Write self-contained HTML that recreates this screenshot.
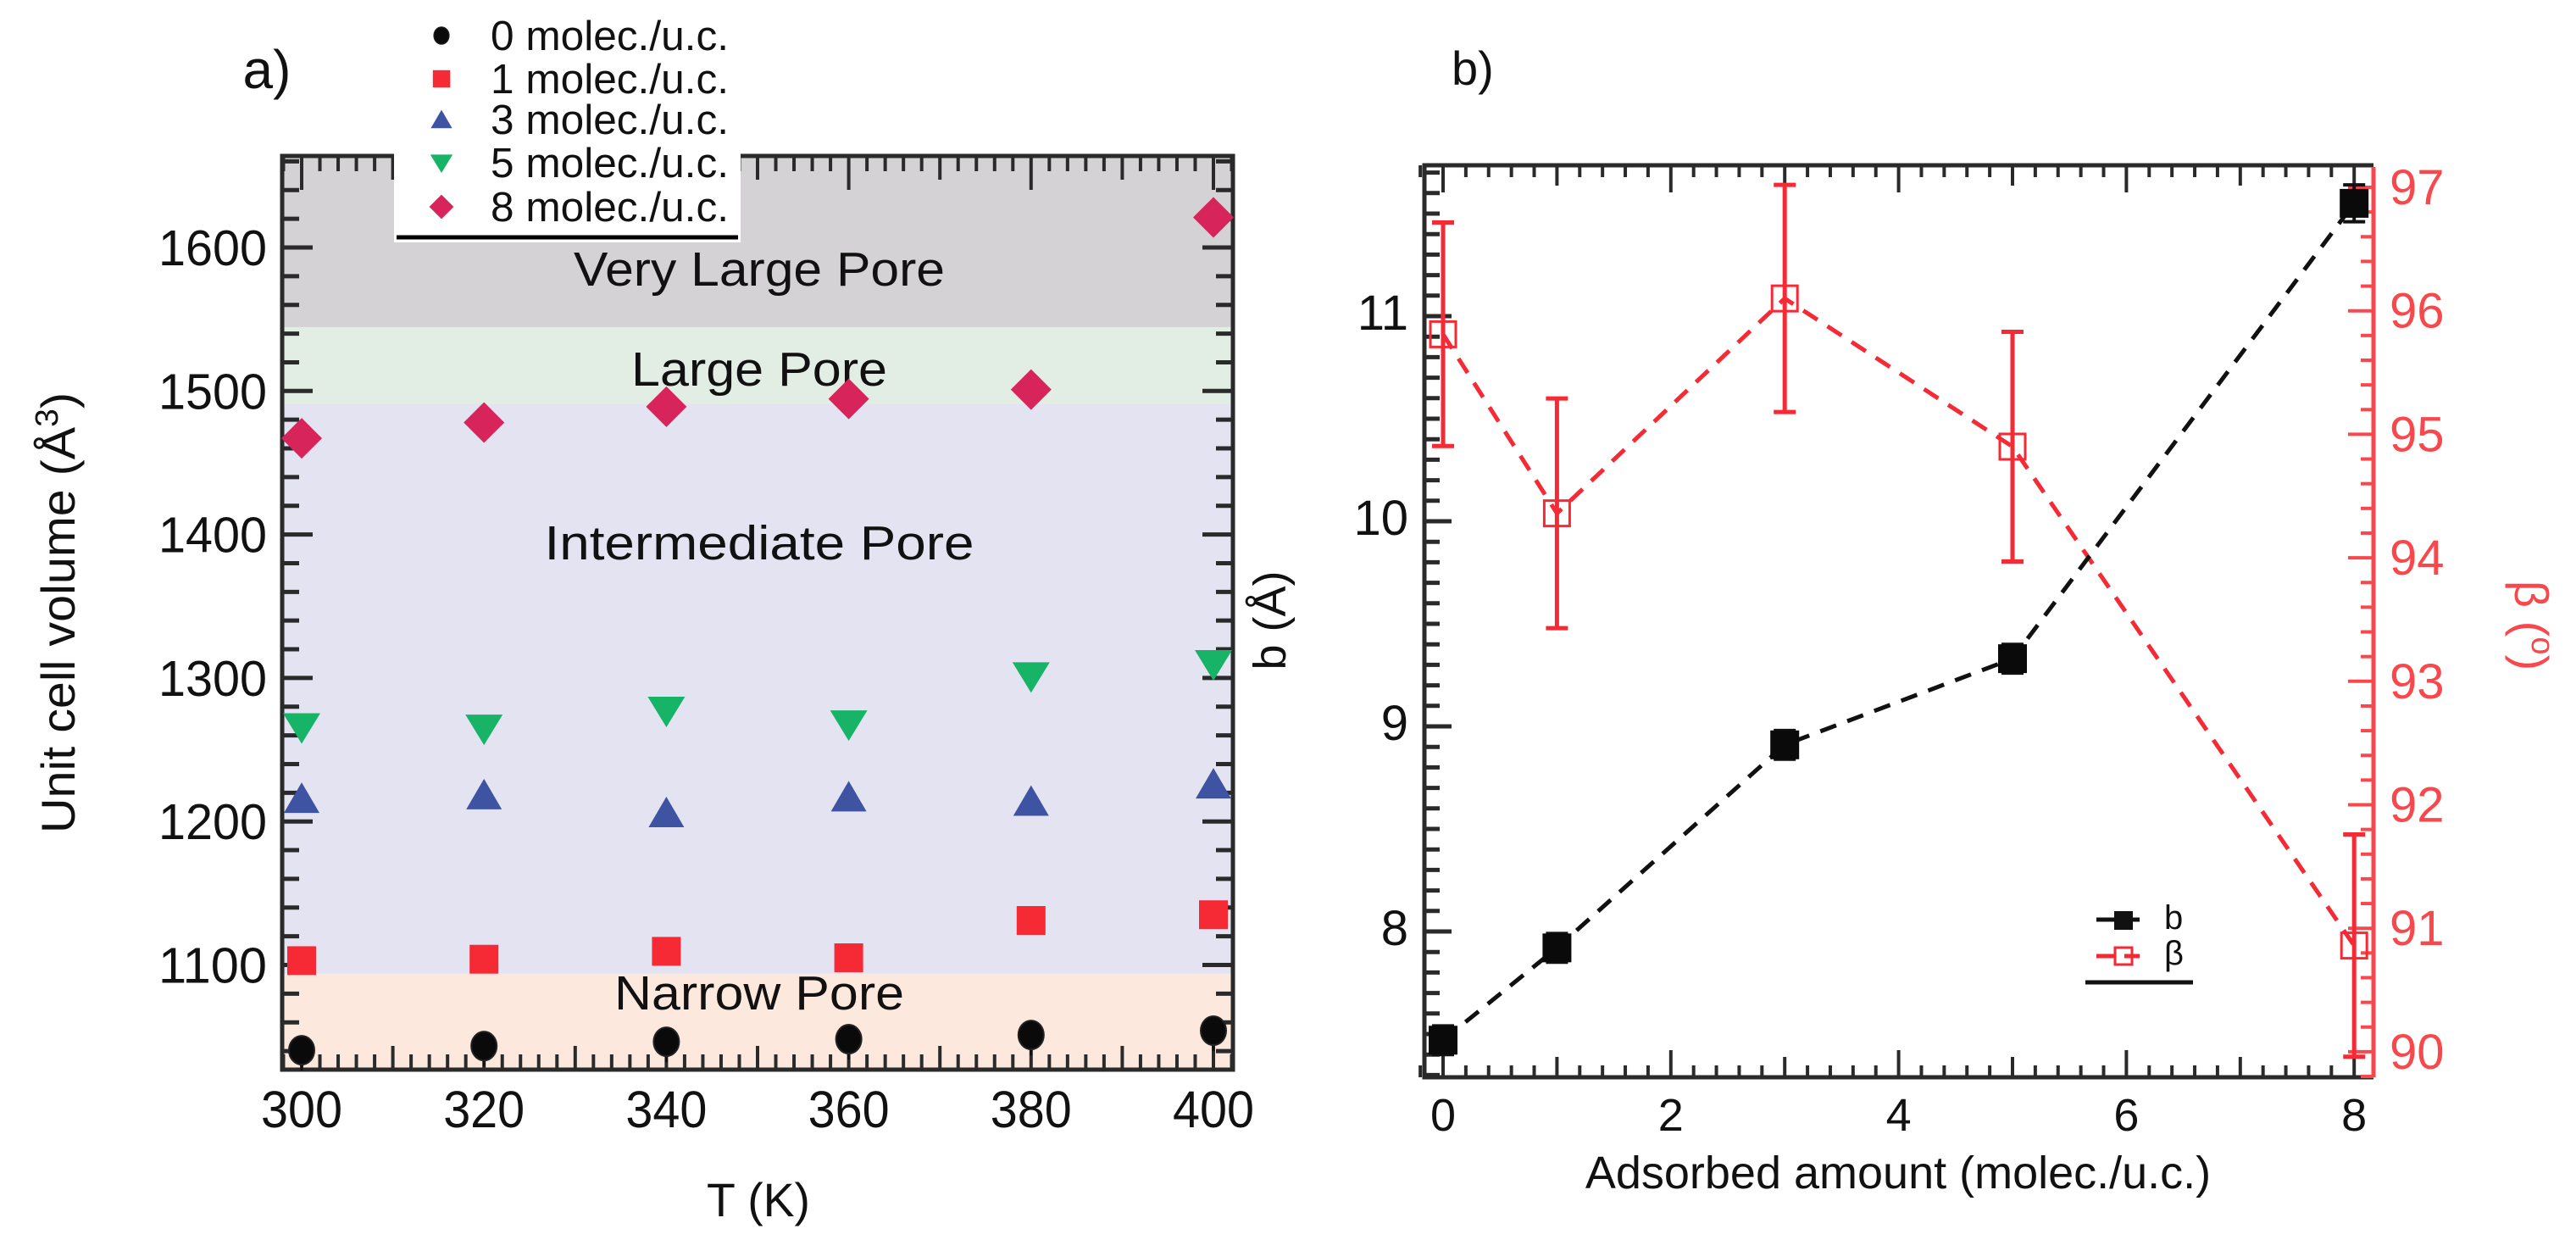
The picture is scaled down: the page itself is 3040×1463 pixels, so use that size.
<!DOCTYPE html>
<html><head><meta charset="utf-8"><style>
html,body{margin:0;padding:0;background:#fff;}
svg{display:block;font-family:"Liberation Sans",sans-serif;}
</style></head><body>
<svg id="fig" width="3040" height="1463" viewBox="0 0 3040 1463" xmlns="http://www.w3.org/2000/svg">
<g id="left"></g>
<g id="right"></g>
</svg>
<script>
// ---- Panel a data ----
const temps = [300, 320, 340, 360, 380, 400];
const v0 = [1040.6, 1043.5, 1046.5, 1048.3, 1051.2, 1054.2];
const v1 = [1103, 1104, 1109.5, 1105, 1131, 1135];
const v3 = [1216, 1218.5, 1206, 1217, 1214, 1226];
const v5 = [1266, 1265, 1277.5, 1268, 1301.5, 1310];
const v8 = [1467, 1478, 1489, 1494.5, 1501, 1621];
const seriesLabels = ["0 molec./u.c.", "1 molec./u.c.", "3 molec./u.c.", "5 molec./u.c.", "8 molec./u.c."];
const aXTicks = [300, 320, 340, 360, 380, 400];
const aYTicks = [1100, 1200, 1300, 1400, 1500, 1600];
const bandEdges = [1094, 1491, 1544.5];
const bandNames = ["Narrow Pore", "Intermediate Pore", "Large Pore", "Very Large Pore"];
// ---- Panel b data ----
const amounts = [0, 1, 3, 5, 8];
const bVals = [7.47, 7.92, 8.91, 9.33, 11.55];
const bErr = [0.07, 0.07, 0.07, 0.07, 0.09];
const betaVals = [95.81, 94.36, 96.1, 94.9, 90.86];
const betaErr = [0.905, 0.93, 0.92, 0.93, 0.9];
const bXTicks = [0, 2, 4, 6, 8];
const bYTicks = [8, 9, 10, 11];
const betaTicks = [90, 91, 92, 93, 94, 95, 96, 97];

const NS = "http://www.w3.org/2000/svg";
function mk(parent, tag, attrs, text) {
  const e = document.createElementNS(NS, tag);
  for (const k in attrs) e.setAttribute(k, attrs[k]);
  if (text !== undefined) e.textContent = text;
  parent.appendChild(e);
  return e;
}
const L = document.getElementById('left');
const R = document.getElementById('right');

// ===== Panel a =====
const aL = 333, aR = 1455, aT = 184, aB = 1262;
const ax = t => 356 + (t - 300) * 10.76;
const ay = v => 292 + (1600 - v) * 1.693;
const bandColors = ["#fde8de", "#e3e3f1", "#e2ede4", "#d4d2d4"];
const bandLo = [1026, bandEdges[0], bandEdges[1], bandEdges[2]];
const bandHi = [bandEdges[0], bandEdges[1], bandEdges[2], 1664];
for (let i = 0; i < 4; i++) {
  const top = Math.max(aT, ay(bandHi[i])), bot = Math.min(aB, ay(bandLo[i]));
  const r = mk(L, 'rect', {x: aL, y: top, width: aR - aL, height: bot - top, fill: bandColors[i]});
  
  
}
const bandLabelY = [1191, 660, 455, 337];
const bandLabelW = [342, 507, 302, 438];
for (let i = 0; i < 4; i++) {
  const t = mk(L, 'text', {x: 896, y: bandLabelY[i], 'font-size': 57, 'text-anchor': 'middle', textLength: bandLabelW[i], lengthAdjust: 'spacingAndGlyphs', fill: '#111'}, bandNames[i]);
  
  
}
const tk = '#2a2a2a';
for (let v = 1040; v <= 1660; v += 20) {
  const y = ay(v), major = v % 100 === 0, len = major ? 36 : 20;
  mk(L, 'line', {x1: aL, x2: aL + len, y1: y, y2: y, stroke: tk, 'stroke-width': 5});
  mk(L, 'line', {x1: aR, x2: aR - len, y1: y, y2: y, stroke: tk, 'stroke-width': 5});
}
for (let t = 298; t <= 402; t += 2) {
  const x = ax(t), len = t % 20 === 0 ? 40 : (t % 10 === 0 ? 28 : 18);
  mk(L, 'line', {x1: x, x2: x, y1: aB, y2: aB - len, stroke: tk, 'stroke-width': 4});
  mk(L, 'line', {x1: x, x2: x, y1: aT, y2: aT + len, stroke: tk, 'stroke-width': 4});
}
const fa = mk(L, 'rect', {x: aL, y: aT, width: aR - aL, height: aB - aT, fill: 'none', stroke: tk, 'stroke-width': 5});


aYTicks.forEach(v => {
  const t = mk(L, 'text', {x: 315, y: ay(v) + 21, 'font-size': 59, 'text-anchor': 'end', textLength: 128, lengthAdjust: 'spacingAndGlyphs', fill: '#111'}, String(v));
  
  
});
aXTicks.forEach(v => {
  const t = mk(L, 'text', {x: ax(v), y: 1330, 'font-size': 61, 'text-anchor': 'middle', textLength: 96, lengthAdjust: 'spacingAndGlyphs', fill: '#111'}, String(v));
  
  
});
function circle(p, x, y) { return mk(p, 'ellipse', {cx: x, cy: y, rx: 15, ry: 17, fill: '#0a0a0a', stroke: '#222', 'stroke-width': 2}); }
function square(p, x, y) { return mk(p, 'rect', {x: x - 17, y: y - 17, width: 34, height: 34, fill: '#f52a35'}); }
function tri(p, x, y) { return mk(p, 'polygon', {points: `${x},${y - 19} ${x - 21},${y + 17} ${x + 21},${y + 17}`, fill: '#3f53a3'}); }
function itri(p, x, y) { return mk(p, 'polygon', {points: `${x - 22},${y - 16} ${x + 22},${y - 16} ${x},${y + 20}`, fill: '#17b467'}); }
function diam(p, x, y) { return mk(p, 'polygon', {points: `${x},${y - 24} ${x + 24},${y} ${x},${y + 24} ${x - 24},${y}`, fill: '#d7245a'}); }
const shapes = [circle, square, tri, itri, diam];
const aSeries = [v0, v1, v3, v5, v8];
aSeries.forEach((arr, si) => {
  arr.forEach((v, i) => {
    if (si === 0) mk(L, 'line', {x1: ax(temps[i]), x2: ax(temps[i]), y1: ay(v), y2: ay(v) + 24, stroke: '#111', 'stroke-width': 3});
    const m = shapes[si](L, ax(temps[i]), ay(v));
    
    
  });
});
const lg = mk(L, 'g', {});


mk(lg, 'rect', {x: 465, y: 0, width: 409, height: 286, fill: '#fff'});
mk(lg, 'line', {x1: 468, x2: 871, y1: 280, y2: 280, stroke: '#000', 'stroke-width': 5});
const legY = [42, 93, 141, 192, 244];
seriesLabels.forEach((s, i) => {
  const sc = i === 0 ? 0.6 : 0.6;
  const g = mk(lg, 'g', {transform: `translate(521,${legY[i]}) scale(${sc})`});
  shapes[i](g, 0, 0);
  const t = mk(lg, 'text', {x: 579, y: legY[i] + 17, 'font-size': 49, textLength: 281, lengthAdjust: 'spacingAndGlyphs', fill: '#111'}, s);
  
  
});
let t;
t = mk(L, 'text', {x: 315, y: 104, 'font-size': 64, fill: '#111', 'text-anchor': 'middle'}, 'a)');
 
t = mk(L, 'text', {x: 895, y: 1435, 'font-size': 56, fill: '#111', 'text-anchor': 'middle', textLength: 122, lengthAdjust: 'spacingAndGlyphs'}, 'T (K)');
 
t = mk(L, 'text', {x: 0, y: 0, 'font-size': 56, fill: '#111', 'text-anchor': 'middle', transform: 'translate(88,723) rotate(-90)', textLength: 520, lengthAdjust: 'spacingAndGlyphs'});
t.innerHTML = 'Unit cell volume (Å<tspan dy="-20" font-size="38">3</tspan><tspan dy="20">)</tspan>';
 

// ===== Panel b =====
const bL = 1681, bR = 2801, bT = 195, bB = 1271;
const bx = a => 1703 + a * 134.4;
const by = v => 373 + (11 - v) * 242;
const bey = v => 221 + (97 - v) * 145.7;
const red = '#f8484c';
for (let v = 7.3; v <= 11.75; v += 0.1) {
  const vv = Math.round(v * 10) / 10, y = by(vv), major = Math.abs(vv - Math.round(vv)) < 1e-6;
  mk(R, 'line', {x1: bL, x2: bL + (major ? 32 : 18), y1: y, y2: y, stroke: tk, 'stroke-width': 5});
}
for (let a = -0.2; a <= 8.2; a += 0.2) {
  const aa = Math.round(a * 10) / 10, x = bx(aa);
  const len = Math.abs(aa % 2) < 1e-6 ? 32 : (Math.abs(aa - Math.round(aa)) < 1e-6 ? 24 : 14);
  mk(R, 'line', {x1: x, x2: x, y1: bB, y2: bB - len, stroke: tk, 'stroke-width': 4});
  mk(R, 'line', {x1: x, x2: x, y1: bT, y2: bT + len, stroke: tk, 'stroke-width': 4});
}
mk(R, 'polyline', {points: `${bR},${bT} ${bL},${bT} ${bL},${bB} ${bR},${bB}`, fill: 'none', stroke: tk, 'stroke-width': 5});
for (let v = 89.8; v <= 97.2; v += 0.2) {
  const vv = Math.round(v * 10) / 10, y = bey(vv);
  if (y < bT || y > bB) continue;
  const major = Math.abs(vv - Math.round(vv)) < 1e-6;
  mk(R, 'line', {x1: bR, x2: bR - (major ? 30 : 15), y1: y, y2: y, stroke: red, 'stroke-width': 4});
}
const sp = mk(R, 'line', {x1: bR, x2: bR, y1: bT + 2, y2: bB, stroke: red, 'stroke-width': 5});
 
bYTicks.forEach(v => {
  const t = mk(R, 'text', {x: 1662, y: by(v) + 16, 'font-size': 58, 'text-anchor': 'end', fill: '#111'}, String(v));
   
});
betaTicks.forEach(v => {
  const t = mk(R, 'text', {x: 2820, y: bey(v) + 20, 'font-size': 58, fill: red}, String(v));
   
});
bXTicks.forEach(v => {
  const t = mk(R, 'text', {x: bx(v), y: 1334, 'font-size': 54, 'text-anchor': 'middle', fill: '#111'}, String(v));
   
});
const betaPts = amounts.map((a, i) => `${bx(a)},${bey(betaVals[i])}`).join(' ');
const bl = mk(R, 'polyline', {points: betaPts, fill: 'none', stroke: '#f52a35', 'stroke-width': 5, 'stroke-dasharray': '20 14'});
 
amounts.forEach((a, i) => {
  const x = bx(a), y = bey(betaVals[i]), e = betaErr[i] * 145.7;
  mk(R, 'line', {x1: x, x2: x, y1: y - e, y2: y + e, stroke: '#f52a35', 'stroke-width': 5});
  mk(R, 'line', {x1: x - 13, x2: x + 13, y1: y - e, y2: y - e, stroke: '#f52a35', 'stroke-width': 5});
  mk(R, 'line', {x1: x - 13, x2: x + 13, y1: y + e, y2: y + e, stroke: '#f52a35', 'stroke-width': 5});
  const m = mk(R, 'rect', {x: x - 15, y: y - 15, width: 30, height: 30, fill: 'none', stroke: '#f52a35', 'stroke-width': 3});
   
});
const bPts = amounts.map((a, i) => `${bx(a)},${by(bVals[i])}`).join(' ');
const bll = mk(R, 'polyline', {points: bPts, fill: 'none', stroke: '#111', 'stroke-width': 5, 'stroke-dasharray': '20 14'});
 
amounts.forEach((a, i) => {
  const x = bx(a), y = by(bVals[i]), e = bErr[i] * 242;
  mk(R, 'line', {x1: x, x2: x, y1: y - e, y2: y + e, stroke: '#111', 'stroke-width': 4});
  mk(R, 'line', {x1: x - 13, x2: x + 13, y1: y - e, y2: y - e, stroke: '#111', 'stroke-width': 4});
  mk(R, 'line', {x1: x - 13, x2: x + 13, y1: y + e, y2: y + e, stroke: '#111', 'stroke-width': 4});
  const m = mk(R, 'rect', {x: x - 17, y: y - 17, width: 34, height: 34, fill: '#0a0a0a'});
   
});
const lb = mk(R, 'g', {});
 
mk(lb, 'line', {x1: 2474, x2: 2525, y1: 1085, y2: 1085, stroke: '#111', 'stroke-width': 5});
mk(lb, 'rect', {x: 2495, y: 1075, width: 22, height: 22, fill: '#111'});
mk(lb, 'line', {x1: 2474, x2: 2525, y1: 1128, y2: 1128, stroke: '#f52a35', 'stroke-width': 5});
mk(lb, 'rect', {x: 2496, y: 1118, width: 20, height: 20, fill: '#fff', stroke: '#f52a35', 'stroke-width': 3});
mk(lb, 'line', {x1: 2507, x2: 2525, y1: 1128, y2: 1128, stroke: '#f52a35', 'stroke-width': 5});
mk(lb, 'text', {x: 2554, y: 1096, 'font-size': 40, fill: '#111'}, 'b');
mk(lb, 'text', {x: 2554, y: 1138, 'font-size': 40, fill: '#111'}, 'β');
mk(lb, 'line', {x1: 2461, x2: 2588, y1: 1159, y2: 1159, stroke: '#111', 'stroke-width': 5});
t = mk(R, 'text', {x: 1713, y: 100, 'font-size': 56, fill: '#111'}, 'b)');
 
t = mk(R, 'text', {x: 2240, y: 1402, 'font-size': 54, 'text-anchor': 'middle', fill: '#111'}, 'Adsorbed amount (molec./u.c.)');
 
t = mk(R, 'text', {x: 0, y: 0, 'font-size': 54, 'text-anchor': 'middle', fill: '#111', transform: 'translate(1517,732) rotate(-90)'}, 'b (Å)');
 
t = mk(R, 'text', {x: 0, y: 0, 'font-size': 56, 'text-anchor': 'middle', fill: red, transform: 'translate(2968,738) rotate(90)'});
t.innerHTML = 'β (<tspan dy="-20" font-size="38">o</tspan><tspan dy="20">)</tspan>';
 
</script>
</body></html>
